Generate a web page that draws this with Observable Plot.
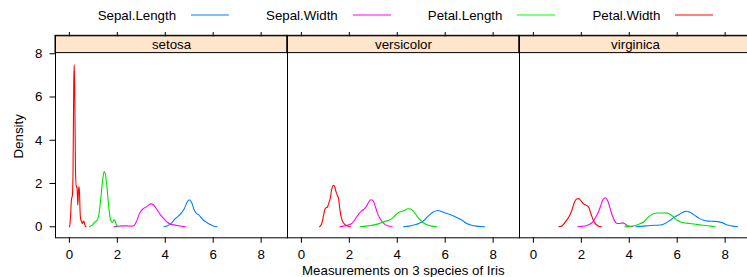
<!DOCTYPE html>
<html><head><meta charset="utf-8">
<script src="https://cdn.jsdelivr.net/npm/d3@7"></script>
<script src="https://cdn.jsdelivr.net/npm/@observablehq/plot@0.6"></script>
<style>
body{margin:0;width:747px;height:277px;overflow:hidden;background:#fff;font-family:"Liberation Sans",Arial,sans-serif;position:relative}
#legend{position:absolute;top:0;left:97.7px;height:30px;display:flex;align-items:center;font-size:13.3px;color:#000;white-space:nowrap}
.item{display:flex;align-items:center}
.swatch{width:38px;height:2px;margin-left:15px;margin-right:37px}
#chart{position:absolute;top:28px;left:0;width:756px}
#chart svg{max-width:none !important}
</style></head><body>
<div id="legend"></div><div id="chart"></div>
<script>
const species = ["setosa","versicolor","virginica"];
const variables = ["Sepal.Length","Sepal.Width","Petal.Length","Petal.Width"];
const lineColors = ["#0080ff","#ff00ff","#00e000","#ff0000"];
const legendColors = ["#80bfff","#ff80ff","#80ff80","#ff8080"];
const xTicks = [0,2,4,6,8];
const yTicks = [0,2,4,6,8];
const xTitle = "Measurements on 3 species of Iris";
const yTitle = "Density";

const setosa_SepalLength = [[3.94,0],[4.1,0.05],[4.2,0.12],[4.3,0.22],[4.4,0.35],[4.5,0.45],[4.6,0.55],[4.7,0.68],[4.8,0.85],[4.9,1.12],[5.0,1.25],[5.1,1.12],[5.2,0.8],[5.3,0.62],[5.4,0.55],[5.5,0.42],[5.6,0.3],[5.7,0.22],[5.8,0.15],[5.9,0.09],[6.0,0.04],[6.16,0]];
const setosa_SepalWidth = [[1.86,0],[2.0,0.02],[2.2,0.04],[2.4,0.04],[2.6,0.03],[2.7,0.06],[2.8,0.25],[2.9,0.55],[3.0,0.75],[3.1,0.85],[3.2,0.92],[3.3,1.0],[3.4,1.06],[3.5,1.02],[3.6,0.88],[3.7,0.72],[3.8,0.55],[3.9,0.42],[4.0,0.3],[4.1,0.2],[4.2,0.13],[4.3,0.1],[4.4,0.08],[4.5,0.06],[4.6,0.04],[4.7,0.02],[4.84,0]];
const setosa_PetalLength = [[0.84,0],[0.95,0.08],[1.05,0.2],[1.15,0.3],[1.22,0.5],[1.3,1.2],[1.38,2.1],[1.45,2.55],[1.5,2.45],[1.56,1.9],[1.62,1.2],[1.68,0.55],[1.74,0.25],[1.8,0.2],[1.86,0.32],[1.9,0.3],[1.95,0.12],[2.0,0.03],[2.06,0]];
const setosa_PetalWidth = [[0.01,0],[0.05,0.5],[0.08,1.2],[0.1,1.35],[0.12,1.4],[0.15,2.4],[0.18,6.5],[0.2,7.5],[0.22,6.5],[0.25,3.0],[0.28,1.85],[0.3,1.9],[0.32,1.8],[0.35,1.0],[0.38,1.7],[0.4,1.85],[0.42,1.6],[0.45,0.6],[0.48,0.3],[0.5,0.28],[0.52,0.2],[0.55,0.15],[0.58,0.25],[0.6,0.27],[0.63,0.15],[0.66,0.03],[0.69,0]];
const versicolor_SepalLength = [[4.26,0],[4.5,0.03],[4.7,0.08],[4.9,0.15],[5.1,0.28],[5.3,0.5],[5.5,0.68],[5.7,0.75],[5.9,0.68],[6.1,0.6],[6.3,0.52],[6.5,0.42],[6.7,0.3],[6.9,0.15],[7.1,0.07],[7.3,0.03],[7.5,0.01],[7.64,0]];
const versicolor_SepalWidth = [[1.61,0],[1.75,0.03],[1.9,0.06],[2.0,0.1],[2.1,0.15],[2.2,0.28],[2.3,0.45],[2.4,0.6],[2.5,0.72],[2.6,0.8],[2.7,0.92],[2.8,1.12],[2.9,1.25],[3.0,1.2],[3.1,0.88],[3.2,0.55],[3.3,0.35],[3.4,0.2],[3.5,0.1],[3.6,0.05],[3.7,0.02],[3.79,0]];
const versicolor_PetalLength = [[2.45,0],[2.7,0.03],[2.9,0.06],[3.1,0.1],[3.3,0.17],[3.5,0.25],[3.7,0.32],[3.85,0.45],[4.0,0.62],[4.15,0.7],[4.3,0.75],[4.45,0.83],[4.55,0.82],[4.7,0.68],[4.85,0.45],[5.0,0.27],[5.15,0.14],[5.3,0.07],[5.45,0.03],[5.65,0]];
const versicolor_PetalWidth = [[0.76,0],[0.85,0.15],[0.92,0.5],[0.98,0.8],[1.03,0.88],[1.08,0.9],[1.13,1.05],[1.2,1.3],[1.27,1.75],[1.33,1.92],[1.38,1.88],[1.45,1.6],[1.5,1.45],[1.55,1.3],[1.6,0.85],[1.65,0.5],[1.7,0.3],[1.75,0.2],[1.8,0.12],[1.9,0.05],[2.04,0]];
const virginica_SepalLength = [[4.28,0],[4.5,0.02],[4.7,0.04],[4.9,0.06],[5.1,0.07],[5.3,0.08],[5.5,0.15],[5.7,0.3],[5.9,0.45],[6.1,0.58],[6.3,0.7],[6.4,0.72],[6.5,0.68],[6.7,0.55],[6.9,0.4],[7.1,0.3],[7.3,0.26],[7.5,0.25],[7.7,0.24],[7.9,0.18],[8.1,0.08],[8.3,0.03],[8.52,0]];
const virginica_SepalWidth = [[1.85,0],[2.0,0.02],[2.2,0.05],[2.4,0.15],[2.5,0.25],[2.6,0.45],[2.7,0.65],[2.8,0.95],[2.9,1.25],[3.0,1.34],[3.1,1.2],[3.2,0.85],[3.3,0.5],[3.4,0.25],[3.5,0.15],[3.6,0.15],[3.7,0.18],[3.8,0.15],[3.9,0.06],[4.0,0.02],[4.15,0]];
const virginica_PetalLength = [[3.82,0],[4.0,0.02],[4.2,0.05],[4.4,0.12],[4.6,0.22],[4.8,0.45],[5.0,0.6],[5.2,0.64],[5.4,0.64],[5.6,0.63],[5.8,0.5],[6.0,0.3],[6.2,0.2],[6.4,0.17],[6.6,0.14],[6.8,0.11],[7.0,0.08],[7.2,0.06],[7.4,0.03],[7.58,0]];
const virginica_PetalWidth = [[1.06,0],[1.2,0.05],[1.35,0.25],[1.5,0.5],[1.6,0.75],[1.7,1.1],[1.8,1.28],[1.9,1.3],[2.0,1.18],[2.1,1.05],[2.2,1.0],[2.3,0.92],[2.4,0.6],[2.5,0.3],[2.6,0.12],[2.7,0.04],[2.84,0]];

const curves = {
  setosa: [setosa_SepalLength, setosa_SepalWidth, setosa_PetalLength, setosa_PetalWidth],
  versicolor: [versicolor_SepalLength, versicolor_SepalWidth, versicolor_PetalLength, versicolor_PetalWidth],
  virginica: [virginica_SepalLength, virginica_SepalWidth, virginica_PetalLength, virginica_PetalWidth]
};

const rows = [];
for (const s of species) curves[s].forEach((c, i) => c.forEach(([x, d]) => rows.push({species: s, variable: variables[i], x, d})));

// legend
const legend = document.getElementById("legend");
variables.forEach((v, i) => {
  const it = document.createElement("div"); it.className = "item";
  const t = document.createElement("span"); t.textContent = v;
  const sw = document.createElement("div"); sw.className = "swatch"; sw.style.background = legendColors[i];
  it.append(t, sw); legend.append(it);
});

const yPanelTop = 8.03, yStripTop = 8.83;
const strips = species.map(s => ({species: s, lo: yPanelTop, hi: yStripTop}));

const plot = Plot.plot({
  width: 756, height: 249,
  marginLeft: 54.6, marginRight: 4.4, marginTop: 7.3, marginBottom: 39.7,
  style: {fontSize: "13.3px", fontFamily: "'Liberation Sans', Arial, sans-serif", color: "black", background: "white", maxWidth: "none"},
  fx: {domain: species, padding: 0, axis: null},
  x: {domain: [-0.58, 9.1]},
  y: {domain: [-0.51, yStripTop]},
  color: {domain: variables, range: lineColors},
  marks: [
    Plot.rect(strips, {fx: "species", y1: "lo", y2: "hi", fill: "#ffe5cc", stroke: "black"}),
    Plot.text(species, {fx: d => d, text: d => d, frameAnchor: "top", lineAnchor: "middle", dy: 9, fill: "black"}),
    Plot.line(rows, {fx: "species", x: "x", y: "d", z: "variable", stroke: "variable", strokeWidth: 1.1, curve: "monotone-x"}),
    Plot.axisX({anchor: "bottom", ticks: xTicks, tickSize: 5.5, tickPadding: 6, label: null}),
    Plot.axisX({anchor: "top", ticks: xTicks, tickSize: 4.3, tickFormat: () => "", label: null}),
    Plot.axisY({anchor: "left", ticks: yTicks, tickSize: 5.5, tickPadding: 7.5, label: null}),
    Plot.frame({stroke: "black"})
  ]
});
plot.style.maxWidth = "none";
const svg = d3.select(plot);
svg.append("text").attr("x", 403.3).attr("y", 246.5).attr("text-anchor", "middle").attr("fill", "black").text(xTitle);
svg.append("text").attr("transform", "translate(23,108.3) rotate(-90)").attr("text-anchor", "middle").attr("fill", "black").text(yTitle);
document.getElementById("chart").append(plot);
</script>
</body></html>
